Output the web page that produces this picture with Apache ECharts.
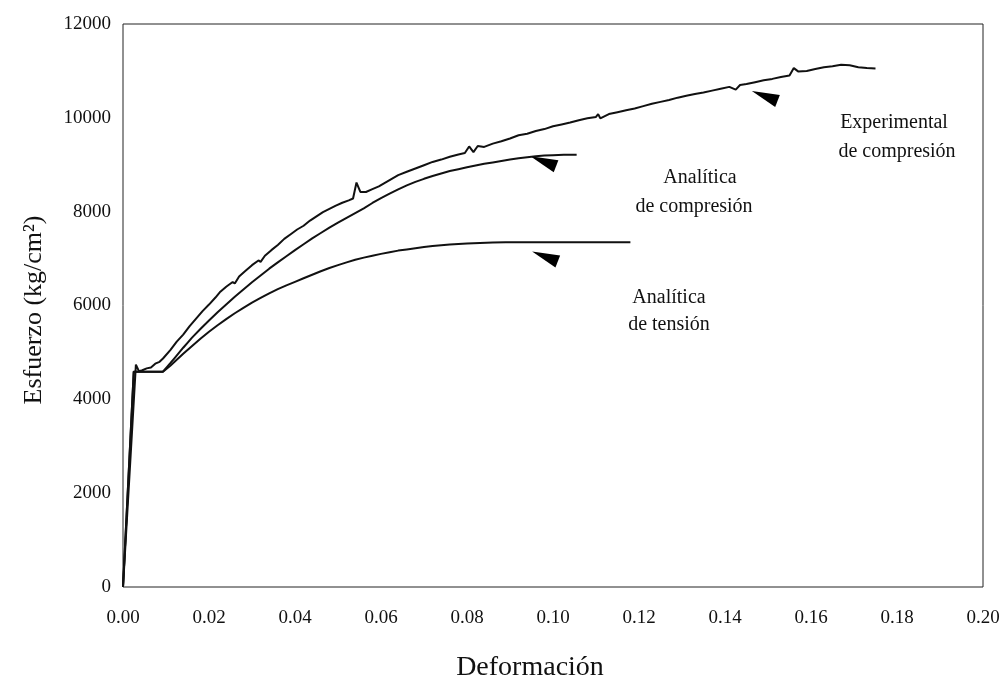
<!DOCTYPE html>
<html>
<head>
<meta charset="utf-8">
<script src="https://cdn.jsdelivr.net/npm/echarts@6/dist/echarts.min.js"></script>
<style>html,body{margin:0;padding:0;background:#fff}#c{width:1005px;height:695px}</style>
</head>
<body>
<div id="c"></div>
<script>
// Experimental de compresión [deformación, esfuerzo]
var experimental = [
[0,0],[0.003,4740],[0.0037,4600],[0.0045,4620],[0.0055,4660],[0.0065,4680],[0.0075,4760],[0.0085,4800],[0.0093,4870],
[0.011,5050],[0.0125,5230],[0.014,5380],[0.0155,5560],[0.017,5720],[0.0185,5880],[0.020,6020],[0.0215,6170],[0.0225,6280],
[0.024,6400],[0.0255,6500],[0.026,6470],[0.027,6620],[0.0285,6740],[0.030,6860],[0.0315,6960],[0.032,6930],[0.033,7060],
[0.0345,7180],[0.036,7290],[0.0375,7420],[0.039,7520],[0.0405,7620],[0.042,7700],[0.0435,7810],[0.045,7900],[0.0465,7990],
[0.048,8060],[0.0495,8130],[0.051,8190],[0.0525,8240],[0.0535,8280],[0.0543,8620],[0.0552,8420],[0.0565,8420],[0.058,8480],
[0.0595,8540],[0.061,8620],[0.0625,8700],[0.064,8780],[0.066,8850],[0.068,8920],[0.070,8990],[0.072,9060],[0.074,9110],
[0.076,9170],[0.078,9220],[0.0795,9250],[0.0805,9390],[0.0815,9270],[0.0825,9400],[0.084,9380],[0.086,9450],[0.088,9500],
[0.090,9560],[0.092,9630],[0.094,9660],[0.096,9720],[0.098,9760],[0.100,9820],[0.102,9860],[0.104,9900],[0.106,9950],
[0.108,9990],[0.110,10020],[0.1105,10080],[0.111,9990],[0.113,10080],[0.115,10120],[0.117,10160],[0.119,10200],[0.121,10250],
[0.123,10300],[0.125,10340],[0.127,10380],[0.129,10430],[0.131,10470],[0.133,10510],[0.135,10540],[0.137,10580],[0.139,10620],
[0.141,10660],[0.1425,10600],[0.1435,10700],[0.145,10720],[0.147,10760],[0.149,10800],[0.151,10830],[0.153,10870],[0.155,10900],
[0.156,11060],[0.157,10990],[0.159,11000],[0.161,11040],[0.163,11080],[0.165,11100],[0.167,11130],[0.169,11120],[0.171,11080],
[0.173,11060],[0.175,11050]
];
// Analítica de compresión
var analiticaCompresion = [
[0,0],[0.0025,4590],[0.0093,4590],[0.011,4770],[0.012,4880],[0.013,4990],[0.014,5100],[0.015,5205],[0.016,5310],[0.018,5500],
[0.020,5680],[0.022,5855],[0.024,6020],[0.026,6185],[0.028,6340],[0.030,6495],[0.032,6640],[0.034,6785],[0.036,6920],
[0.038,7050],[0.040,7180],[0.042,7305],[0.044,7430],[0.046,7545],[0.048,7660],[0.050,7765],[0.052,7870],[0.054,7970],
[0.056,8070],[0.058,8185],[0.060,8290],[0.062,8385],[0.064,8475],[0.066,8560],[0.068,8635],[0.070,8700],[0.072,8760],
[0.074,8815],[0.076,8865],[0.078,8905],[0.080,8945],[0.082,8985],[0.084,9020],[0.086,9050],[0.088,9080],[0.090,9110],
[0.092,9140],[0.094,9160],[0.096,9180],[0.098,9195],[0.100,9205],[0.1025,9212],[0.1055,9215]
];
// Analítica de tensión
var analiticaTension = [
[0,0],[0.0025,4590],[0.0093,4590],[0.011,4715],[0.012,4800],[0.014,4970],[0.016,5130],[0.018,5290],[0.020,5440],[0.022,5580],
[0.024,5710],[0.026,5835],[0.028,5950],[0.030,6060],[0.032,6160],[0.034,6260],[0.036,6350],[0.038,6430],[0.040,6505],
[0.042,6580],[0.044,6655],[0.046,6730],[0.048,6800],[0.050,6860],[0.052,6920],[0.054,6975],[0.056,7020],[0.058,7060],
[0.060,7100],[0.062,7135],[0.064,7170],[0.066,7195],[0.068,7220],[0.070,7245],[0.072,7268],[0.074,7285],[0.076,7300],
[0.078,7312],[0.080,7322],[0.083,7333],[0.086,7341],[0.089,7347],[0.092,7350],[0.100,7350],[0.118,7350]
];
// Arrow markers
var arrows = [[0.098,9010],[0.0984,6980],[0.1495,10400]];

var serif = '"Liberation Serif","Times New Roman",serif';
var chart = echarts.init(document.getElementById('c'));
var lineStyle = {color:'#111', width:2};
chart.setOption({
  animation:false,
  backgroundColor:'#fff',
  grid:{left:123, right:22, top:24, bottom:108, show:true, borderColor:'#222', borderWidth:1},
  xAxis:{type:'value', min:0, max:0.2, interval:0.02,
    axisLine:{show:false}, axisTick:{show:false}, splitLine:{show:false},
    axisLabel:{margin:22, fontFamily:serif, fontSize:19, color:'#111', formatter:function(v){return v.toFixed(2);}}},
  yAxis:{type:'value', min:0, max:12000, interval:2000,
    axisLine:{show:false}, axisTick:{show:false}, splitLine:{show:false},
    axisLabel:{margin:12, fontFamily:serif, fontSize:19, color:'#111', formatter:function(v){return String(v);}}},
  graphic:[
    {type:'text', x:530, y:668, style:{text:'Deformación', font:'28px '+serif, fill:'#111', textAlign:'center', textVerticalAlign:'middle'}},
    {type:'text', x:34, y:310, rotation:Math.PI/2, style:{text:'Esfuerzo (kg/cm²)', font:'26px '+serif, fill:'#111', textAlign:'center', textVerticalAlign:'middle'}},
    {type:'text', x:700, y:178, style:{text:'Analítica', font:'20px '+serif, fill:'#111', textAlign:'center', textVerticalAlign:'middle'}},
    {type:'text', x:694, y:207, style:{text:'de compresión', font:'20px '+serif, fill:'#111', textAlign:'center', textVerticalAlign:'middle'}},
    {type:'text', x:669, y:298, style:{text:'Analítica', font:'20px '+serif, fill:'#111', textAlign:'center', textVerticalAlign:'middle'}},
    {type:'text', x:669, y:325, style:{text:'de tensión', font:'20px '+serif, fill:'#111', textAlign:'center', textVerticalAlign:'middle'}},
    {type:'text', x:894, y:123, style:{text:'Experimental', font:'20px '+serif, fill:'#111', textAlign:'center', textVerticalAlign:'middle'}},
    {type:'text', x:897, y:152, style:{text:'de compresión', font:'20px '+serif, fill:'#111', textAlign:'center', textVerticalAlign:'middle'}}
  ],
  series:[
    {type:'line', data:experimental, showSymbol:false, lineStyle:lineStyle},
    {type:'line', data:analiticaCompresion, showSymbol:false, lineStyle:lineStyle},
    {type:'line', data:analiticaTension, showSymbol:false, lineStyle:lineStyle},
    {type:'scatter', data:arrows, symbol:'path://M0,0 L30,4 L25,16 Z', symbolSize:[28,16], itemStyle:{color:'#000', opacity:1}}
  ]
});
</script>
</body>
</html>
